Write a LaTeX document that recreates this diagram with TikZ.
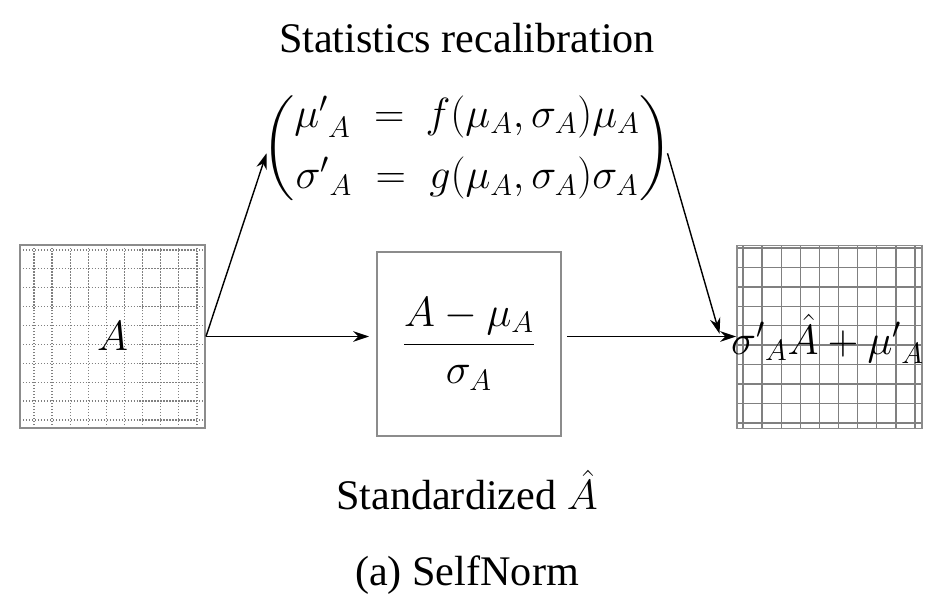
\documentclass[tikz,border=0pt]{standalone}
\usepackage{fix-cm}
\usepackage{amsmath}
\usepackage{fontspec}
\setmainfont{Liberation Serif}
\usetikzlibrary{arrows.meta}

\tikzset{
  frame/.style={draw=gray!90, line width=1.1pt, minimum width=3.7cm, minimum height=3.66cm, inner sep=0pt},
  link/.style={-{Stealth[length=9pt,width=6pt]}, line width=0.8pt},
}

\begin{document}
\begin{tikzpicture}[font=\fontsize{24}{29}\selectfont]
    \useasboundingbox (0,0) rectangle (18.94,12.18);

    % Input map
    \foreach \i in {0,...,9} {
        \draw[gray, densely dotted, line width=0.7pt] (0.68+0.362*\i,3.62) -- (0.68+0.362*\i,7.28);
        \draw[gray, densely dotted, line width=0.7pt] (0.4,3.78+0.378*\i) -- (4.1,3.78+0.378*\i);
    }
    \node[frame] (inA) at (2.25,5.45) {$A$};

    % Standardization
    \node[frame, minimum width=3.68cm, minimum height=3.68cm] (norm) at (9.38,5.30) {$\dfrac{A-\mu_A}{\sigma_A}$};
    \node (stdtxt) at (9.34,2.38) {Standardized $\hat{A}$};

    % Recalibration
    \node (title) at (9.34,11.42) {Statistics recalibration};
    \node (recal) at (9.34,9.22) {$\begin{pmatrix}
        {\mu'}_A \;=\: f(\mu_A,\sigma_A)\mu_A \\[6pt]
        {\sigma'}_A \;=\; g(\mu_A,\sigma_A)\sigma_A
      \end{pmatrix}$};

    % Output map
    \foreach \i in {0,...,9} {
        \draw[gray, line width=0.8pt] (14.86+0.382*\i,3.6) -- (14.86+0.382*\i,7.28);
        \draw[gray, line width=0.8pt] (14.74,3.72+0.389*\i) -- (18.44,3.72+0.389*\i);
    }
    \node[frame] (out) at (16.59,5.44) {};
    \node (outtxt) at (16.55,5.40) {${\sigma'}_A\hat{A}+{\mu'}_A$};

    % Caption
    \node (cap) at (9.34,0.68) {(a) SelfNorm};

    % Arrows
    \draw[link] (inA.east) -- ([xshift=6pt,yshift=-3pt]recal.west);
    \draw[link, shorten >=4pt] (inA.east) -- (inA.east -| norm.west);
    \draw[link] (inA.east -| norm.east) ++(3pt,0) -- (inA.east -| out.west);
    \draw[link] ([xshift=-6pt,yshift=-3pt]recal.east) -- ([xshift=-3pt,yshift=3pt]outtxt.west);
\end{tikzpicture}
\end{document}
